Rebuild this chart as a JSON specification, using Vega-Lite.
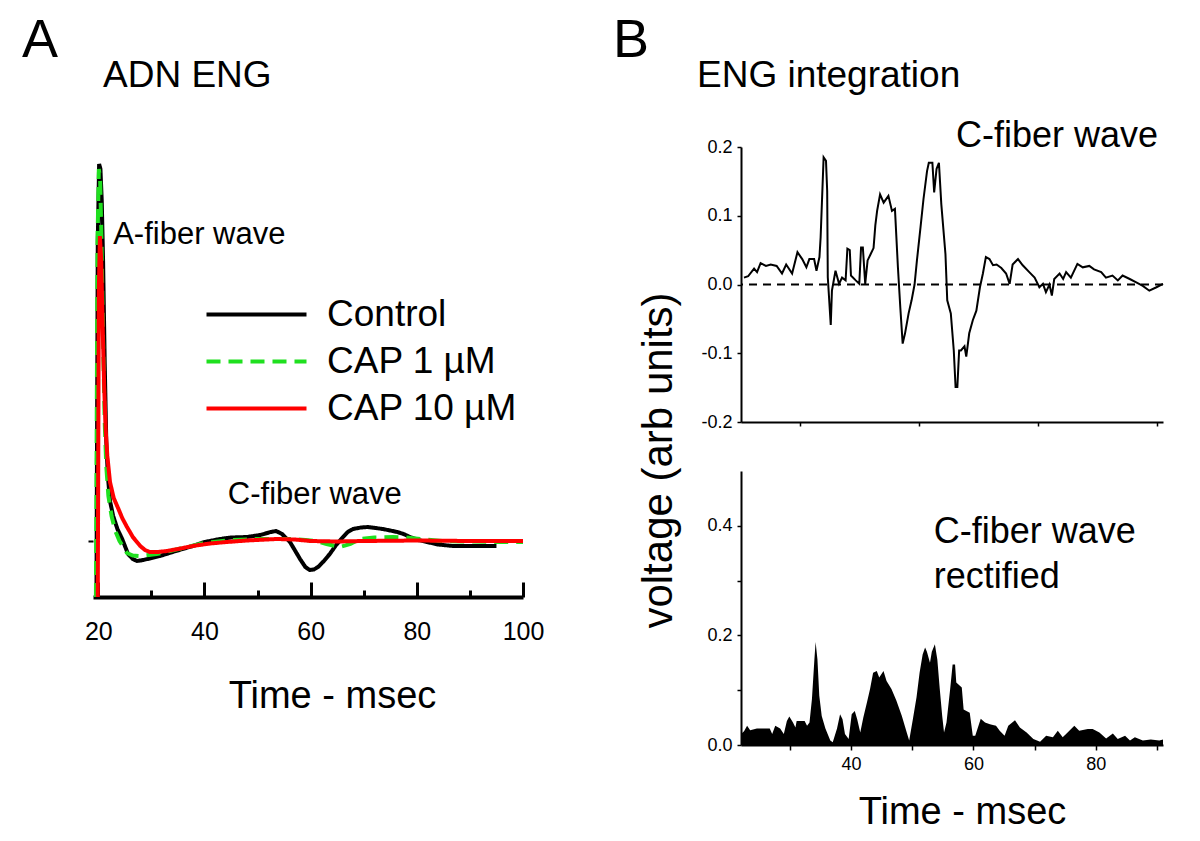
{
  "$schema": "https://vega.github.io/schema/vega-lite/v6.json",
  "background": "white",
  "padding": {"left": 22, "top": 14, "right": 10, "bottom": 10},
  "config": {
    "font": "Liberation Sans",
    "view": {"stroke": null},
    "axis": {"grid": false, "labelFlush": false, "labelOverlap": false, "domainColor": "black", "tickColor": "black", "labelColor": "black", "titleColor": "black", "titleFontWeight": "normal", "labelFont": "Liberation Sans", "titleFont": "Liberation Sans"},
    "title": {"color": "black", "fontWeight": "normal", "font": "Liberation Sans"},
    "legend": {"labelFont": "Liberation Sans", "labelLimit": 0}
  },
  "datasets": {
    "a": [
      {"series": "Control", "t": 19.65, "v": -5.6}, {"series": "Control", "t": 19.9, "v": 30}, {"series": "Control", "t": 20.15, "v": 37.7}, {"series": "Control", "t": 20.4, "v": 37.2}, {"series": "Control", "t": 20.65, "v": 34}, {"series": "Control", "t": 20.9, "v": 28}, {"series": "Control", "t": 21.2, "v": 18}, {"series": "Control", "t": 21.5, "v": 10}, {"series": "Control", "t": 21.8, "v": 6.5}, {"series": "Control", "t": 22.2, "v": 4}, {"series": "Control", "t": 22.8, "v": 2.5}, {"series": "Control", "t": 23.6, "v": 1.2}, {"series": "Control", "t": 24.5, "v": 0.2}, {"series": "Control", "t": 25.6, "v": -1.3}, {"series": "Control", "t": 26.5, "v": -1.8}, {"series": "Control", "t": 27.3, "v": -2.0}, {"series": "Control", "t": 28.5, "v": -1.9}, {"series": "Control", "t": 30, "v": -1.7}, {"series": "Control", "t": 31.6, "v": -1.5}, {"series": "Control", "t": 34, "v": -1.1}, {"series": "Control", "t": 37.8, "v": -0.5}, {"series": "Control", "t": 40, "v": -0.1}, {"series": "Control", "t": 42.9, "v": 0.2}, {"series": "Control", "t": 45, "v": 0.35}, {"series": "Control", "t": 48, "v": 0.4}, {"series": "Control", "t": 50.5, "v": 0.6}, {"series": "Control", "t": 52.5, "v": 0.9}, {"series": "Control", "t": 53.5, "v": 1.0}, {"series": "Control", "t": 54.6, "v": 0.7}, {"series": "Control", "t": 56.1, "v": -0.1}, {"series": "Control", "t": 57, "v": -0.9}, {"series": "Control", "t": 58, "v": -1.8}, {"series": "Control", "t": 59, "v": -2.6}, {"series": "Control", "t": 59.8, "v": -2.9}, {"series": "Control", "t": 60.6, "v": -2.85}, {"series": "Control", "t": 61.4, "v": -2.6}, {"series": "Control", "t": 62.5, "v": -2.0}, {"series": "Control", "t": 63.6, "v": -1.3}, {"series": "Control", "t": 64.8, "v": -0.4}, {"series": "Control", "t": 66.1, "v": 0.4}, {"series": "Control", "t": 67, "v": 0.9}, {"series": "Control", "t": 68, "v": 1.2}, {"series": "Control", "t": 69.5, "v": 1.35}, {"series": "Control", "t": 70.8, "v": 1.4}, {"series": "Control", "t": 72.2, "v": 1.3}, {"series": "Control", "t": 73.6, "v": 1.2}, {"series": "Control", "t": 75, "v": 1.05}, {"series": "Control", "t": 76.3, "v": 0.9}, {"series": "Control", "t": 77.5, "v": 0.7}, {"series": "Control", "t": 78.7, "v": 0.4}, {"series": "Control", "t": 80.3, "v": 0.1}, {"series": "Control", "t": 81.9, "v": -0.1}, {"series": "Control", "t": 84, "v": -0.35}, {"series": "Control", "t": 86.8, "v": -0.5}, {"series": "Control", "t": 91.3, "v": -0.5}, {"series": "Control", "t": 95, "v": -0.5},
      {"series": "CAP 1 µM", "t": 19.55, "v": -5.6}, {"series": "CAP 1 µM", "t": 19.85, "v": 30}, {"series": "CAP 1 µM", "t": 20.1, "v": 37.2}, {"series": "CAP 1 µM", "t": 20.35, "v": 36}, {"series": "CAP 1 µM", "t": 20.6, "v": 30}, {"series": "CAP 1 µM", "t": 20.9, "v": 20}, {"series": "CAP 1 µM", "t": 21.2, "v": 12}, {"series": "CAP 1 µM", "t": 21.5, "v": 7.5}, {"series": "CAP 1 µM", "t": 21.9, "v": 4.5}, {"series": "CAP 1 µM", "t": 22.5, "v": 2.5}, {"series": "CAP 1 µM", "t": 23.2, "v": 1.0}, {"series": "CAP 1 µM", "t": 24, "v": 0}, {"series": "CAP 1 µM", "t": 25.4, "v": -1.2}, {"series": "CAP 1 µM", "t": 26.5, "v": -1.45}, {"series": "CAP 1 µM", "t": 27.8, "v": -1.5}, {"series": "CAP 1 µM", "t": 29.5, "v": -1.4}, {"series": "CAP 1 µM", "t": 31, "v": -1.3}, {"series": "CAP 1 µM", "t": 33.5, "v": -1.0}, {"series": "CAP 1 µM", "t": 36.7, "v": -0.6}, {"series": "CAP 1 µM", "t": 40, "v": -0.2}, {"series": "CAP 1 µM", "t": 45, "v": 0.1}, {"series": "CAP 1 µM", "t": 50, "v": 0.2}, {"series": "CAP 1 µM", "t": 56.7, "v": 0.2}, {"series": "CAP 1 µM", "t": 59, "v": 0.1}, {"series": "CAP 1 µM", "t": 61, "v": 0}, {"series": "CAP 1 µM", "t": 63, "v": -0.3}, {"series": "CAP 1 µM", "t": 65.5, "v": -0.6}, {"series": "CAP 1 µM", "t": 67.5, "v": -0.3}, {"series": "CAP 1 µM", "t": 69.3, "v": 0.2}, {"series": "CAP 1 µM", "t": 72, "v": 0.35}, {"series": "CAP 1 µM", "t": 75.5, "v": 0.4}, {"series": "CAP 1 µM", "t": 78, "v": 0.35}, {"series": "CAP 1 µM", "t": 80.6, "v": 0.2}, {"series": "CAP 1 µM", "t": 85, "v": 0}, {"series": "CAP 1 µM", "t": 90, "v": -0.05}, {"series": "CAP 1 µM", "t": 95, "v": -0.1}, {"series": "CAP 1 µM", "t": 100, "v": -0.1},
      {"series": "CAP 10 µM", "t": 19.9, "v": -5.6}, {"series": "CAP 10 µM", "t": 20.1, "v": 25}, {"series": "CAP 10 µM", "t": 20.3, "v": 30.5}, {"series": "CAP 10 µM", "t": 20.55, "v": 28}, {"series": "CAP 10 µM", "t": 20.8, "v": 22}, {"series": "CAP 10 µM", "t": 21.1, "v": 15.5}, {"series": "CAP 10 µM", "t": 21.4, "v": 11}, {"series": "CAP 10 µM", "t": 21.7, "v": 8.5}, {"series": "CAP 10 µM", "t": 22.2, "v": 5.9}, {"series": "CAP 10 µM", "t": 22.9, "v": 4.3}, {"series": "CAP 10 µM", "t": 23.8, "v": 3.2}, {"series": "CAP 10 µM", "t": 24.5, "v": 2.3}, {"series": "CAP 10 µM", "t": 25.3, "v": 1.5}, {"series": "CAP 10 µM", "t": 26.5, "v": 0.4}, {"series": "CAP 10 µM", "t": 27.9, "v": -0.5}, {"series": "CAP 10 µM", "t": 28.8, "v": -0.9}, {"series": "CAP 10 µM", "t": 29.7, "v": -1.1}, {"series": "CAP 10 µM", "t": 31.2, "v": -1.1}, {"series": "CAP 10 µM", "t": 32.9, "v": -1.0}, {"series": "CAP 10 µM", "t": 35, "v": -0.8}, {"series": "CAP 10 µM", "t": 37.8, "v": -0.5}, {"series": "CAP 10 µM", "t": 41, "v": -0.25}, {"series": "CAP 10 µM", "t": 44.2, "v": -0.1}, {"series": "CAP 10 µM", "t": 48, "v": 0.05}, {"series": "CAP 10 µM", "t": 53.6, "v": 0.2}, {"series": "CAP 10 µM", "t": 57, "v": 0.15}, {"series": "CAP 10 µM", "t": 60, "v": 0}, {"series": "CAP 10 µM", "t": 65, "v": -0.05}, {"series": "CAP 10 µM", "t": 70, "v": 0}, {"series": "CAP 10 µM", "t": 80, "v": 0.05}, {"series": "CAP 10 µM", "t": 90, "v": 0}, {"series": "CAP 10 µM", "t": 100, "v": 0}
    ],
    "btop": [
      {"t": 20.5, "v": 0.010}, {"t": 21.2, "v": 0.012}, {"t": 22.2, "v": 0.023}, {"t": 22.7, "v": 0.018}, {"t": 23.3, "v": 0.031}, {"t": 24.2, "v": 0.027}, {"t": 25.0, "v": 0.029}, {"t": 26.0, "v": 0.027}, {"t": 26.9, "v": 0.016}, {"t": 27.6, "v": 0.029}, {"t": 28.6, "v": 0.016}, {"t": 29.5, "v": 0.047}, {"t": 30.3, "v": 0.037}, {"t": 31.0, "v": 0.025}, {"t": 31.5, "v": 0.037}, {"t": 32.3, "v": 0.037}, {"t": 32.7, "v": 0.020}, {"t": 33.2, "v": 0.040}, {"t": 33.4, "v": 0.069}, {"t": 33.9, "v": 0.185}, {"t": 34.3, "v": 0.180}, {"t": 34.5, "v": 0.136}, {"t": 34.6, "v": 0.011}, {"t": 35.1, "v": -0.059}, {"t": 35.3, "v": -0.009}, {"t": 35.9, "v": 0.020}, {"t": 36.5, "v": 0.001}, {"t": 37.0, "v": 0.010}, {"t": 37.6, "v": 0.006}, {"t": 37.9, "v": 0.052}, {"t": 38.3, "v": 0.050}, {"t": 38.5, "v": 0.013}, {"t": 39.3, "v": 0.006}, {"t": 39.9, "v": 0.001}, {"t": 40.2, "v": 0.054}, {"t": 40.5, "v": 0.054}, {"t": 40.9, "v": 0.001}, {"t": 41.3, "v": 0.035}, {"t": 41.8, "v": 0.044}, {"t": 42.3, "v": 0.053}, {"t": 42.6, "v": 0.086}, {"t": 42.9, "v": 0.107}, {"t": 43.4, "v": 0.131}, {"t": 44.0, "v": 0.119}, {"t": 44.8, "v": 0.129}, {"t": 45.4, "v": 0.107}, {"t": 45.9, "v": 0.110}, {"t": 46.4, "v": 0.025}, {"t": 46.8, "v": -0.033}, {"t": 47.2, "v": -0.086}, {"t": 47.6, "v": -0.071}, {"t": 48.2, "v": -0.042}, {"t": 48.7, "v": -0.023}, {"t": 49.2, "v": 0.0}, {"t": 49.6, "v": 0.035}, {"t": 50.2, "v": 0.083}, {"t": 50.7, "v": 0.124}, {"t": 51.3, "v": 0.165}, {"t": 51.6, "v": 0.177}, {"t": 52.2, "v": 0.177}, {"t": 52.5, "v": 0.134}, {"t": 52.9, "v": 0.168}, {"t": 53.3, "v": 0.177}, {"t": 53.7, "v": 0.117}, {"t": 54.4, "v": 0.044}, {"t": 54.7, "v": -0.023}, {"t": 55.3, "v": -0.042}, {"t": 55.8, "v": -0.096}, {"t": 56.1, "v": -0.149}, {"t": 56.4, "v": -0.149}, {"t": 56.7, "v": -0.096}, {"t": 57.0, "v": -0.096}, {"t": 57.6, "v": -0.090}, {"t": 57.9, "v": -0.105}, {"t": 58.4, "v": -0.071}, {"t": 59.0, "v": -0.052}, {"t": 59.6, "v": -0.038}, {"t": 60.2, "v": -0.004}, {"t": 60.7, "v": 0.016}, {"t": 61.2, "v": 0.040}, {"t": 61.8, "v": 0.037}, {"t": 62.4, "v": 0.028}, {"t": 63.0, "v": 0.029}, {"t": 63.8, "v": 0.024}, {"t": 64.6, "v": 0.016}, {"t": 65.2, "v": 0.001}, {"t": 65.7, "v": 0.029}, {"t": 66.6, "v": 0.037}, {"t": 67.4, "v": 0.028}, {"t": 68.5, "v": 0.018}, {"t": 69.4, "v": 0.010}, {"t": 70.2, "v": -0.004}, {"t": 70.8, "v": 0.001}, {"t": 71.3, "v": -0.011}, {"t": 71.9, "v": 0.0}, {"t": 72.3, "v": -0.016}, {"t": 72.7, "v": 0.008}, {"t": 73.6, "v": 0.016}, {"t": 74.2, "v": 0.008}, {"t": 74.7, "v": 0.018}, {"t": 75.5, "v": 0.010}, {"t": 76.6, "v": 0.030}, {"t": 77.5, "v": 0.025}, {"t": 78.6, "v": 0.027}, {"t": 79.4, "v": 0.022}, {"t": 80.6, "v": 0.018}, {"t": 81.4, "v": 0.010}, {"t": 82.5, "v": 0.013}, {"t": 83.4, "v": 0.006}, {"t": 84.2, "v": 0.013}, {"t": 85.4, "v": 0.008}, {"t": 86.5, "v": 0.003}, {"t": 87.6, "v": -0.002}, {"t": 88.7, "v": -0.009}, {"t": 89.9, "v": -0.004}, {"t": 91.0, "v": 0.001}
    ],
    "bbot": [
      {"t": 22.0, "v": 0.02}, {"t": 22.5, "v": 0.025}, {"t": 23.0, "v": 0.035}, {"t": 23.5, "v": 0.027}, {"t": 24.6, "v": 0.030}, {"t": 25.6, "v": 0.030}, {"t": 26.7, "v": 0.030}, {"t": 27.1, "v": 0.020}, {"t": 27.6, "v": 0.035}, {"t": 28.4, "v": 0.030}, {"t": 29.0, "v": 0.020}, {"t": 29.5, "v": 0.044}, {"t": 29.9, "v": 0.052}, {"t": 30.5, "v": 0.041}, {"t": 30.9, "v": 0.032}, {"t": 31.1, "v": 0.044}, {"t": 32.4, "v": 0.044}, {"t": 32.8, "v": 0.035}, {"t": 33.2, "v": 0.041}, {"t": 33.6, "v": 0.084}, {"t": 34.0, "v": 0.156}, {"t": 34.2, "v": 0.188}, {"t": 34.5, "v": 0.156}, {"t": 34.8, "v": 0.090}, {"t": 35.2, "v": 0.053}, {"t": 35.8, "v": 0.030}, {"t": 36.6, "v": 0.008}, {"t": 37.0, "v": 0.005}, {"t": 37.7, "v": 0.030}, {"t": 38.2, "v": 0.056}, {"t": 38.6, "v": 0.047}, {"t": 39.0, "v": 0.020}, {"t": 39.6, "v": 0.011}, {"t": 40.1, "v": 0.056}, {"t": 40.6, "v": 0.062}, {"t": 41.0, "v": 0.047}, {"t": 41.5, "v": 0.023}, {"t": 42.0, "v": 0.050}, {"t": 42.6, "v": 0.078}, {"t": 43.1, "v": 0.102}, {"t": 43.6, "v": 0.132}, {"t": 44.2, "v": 0.135}, {"t": 44.6, "v": 0.123}, {"t": 45.3, "v": 0.135}, {"t": 45.8, "v": 0.117}, {"t": 46.6, "v": 0.102}, {"t": 47.4, "v": 0.081}, {"t": 48.3, "v": 0.053}, {"t": 49.1, "v": 0.023}, {"t": 49.5, "v": 0.008}, {"t": 50.1, "v": 0.047}, {"t": 50.7, "v": 0.087}, {"t": 51.2, "v": 0.132}, {"t": 51.7, "v": 0.165}, {"t": 52.1, "v": 0.178}, {"t": 52.4, "v": 0.170}, {"t": 52.9, "v": 0.150}, {"t": 53.2, "v": 0.170}, {"t": 53.7, "v": 0.184}, {"t": 54.1, "v": 0.156}, {"t": 54.5, "v": 0.102}, {"t": 54.9, "v": 0.053}, {"t": 55.2, "v": 0.023}, {"t": 55.6, "v": 0.041}, {"t": 56.2, "v": 0.102}, {"t": 56.6, "v": 0.147}, {"t": 57.0, "v": 0.147}, {"t": 57.2, "v": 0.114}, {"t": 58.1, "v": 0.105}, {"t": 58.4, "v": 0.065}, {"t": 59.4, "v": 0.059}, {"t": 59.9, "v": 0.017}, {"t": 60.3, "v": 0.017}, {"t": 61.2, "v": 0.048}, {"t": 61.9, "v": 0.041}, {"t": 62.7, "v": 0.038}, {"t": 63.7, "v": 0.035}, {"t": 64.3, "v": 0.026}, {"t": 65.1, "v": 0.017}, {"t": 65.7, "v": 0.035}, {"t": 66.8, "v": 0.045}, {"t": 67.6, "v": 0.032}, {"t": 68.7, "v": 0.023}, {"t": 69.8, "v": 0.011}, {"t": 70.9, "v": 0.006}, {"t": 71.9, "v": 0.017}, {"t": 73.0, "v": 0.014}, {"t": 73.8, "v": 0.026}, {"t": 74.6, "v": 0.014}, {"t": 75.4, "v": 0.023}, {"t": 76.5, "v": 0.035}, {"t": 77.3, "v": 0.026}, {"t": 78.7, "v": 0.029}, {"t": 79.5, "v": 0.029}, {"t": 80.6, "v": 0.023}, {"t": 81.7, "v": 0.012}, {"t": 82.8, "v": 0.021}, {"t": 83.6, "v": 0.011}, {"t": 84.8, "v": 0.017}, {"t": 85.6, "v": 0.008}, {"t": 86.4, "v": 0.014}, {"t": 87.7, "v": 0.008}, {"t": 89.0, "v": 0.010}, {"t": 90.4, "v": 0.008}, {"t": 91.0, "v": 0.010}
    ]
  },
  "bounds": "flush",
  "spacing": 648,
  "resolve": {"scale": {"color": "independent", "strokeDash": "independent"}},
  "hconcat": [
    {
      "bounds": "flush",
      "title": {"text": "A", "anchor": "start", "frame": "group", "dx": -71, "offset": -11, "fontSize": 54},
      "vconcat": [
        {
          "width": 430,
          "height": 450,
          "title": {"text": "ADN ENG", "anchor": "start", "frame": "group", "dx": 10, "offset": 52, "fontSize": 37},
          "layer": [
            {
              "data": {"name": "a"},
              "transform": [{"filter": "datum.series === 'Control'"}],
              "mark": {"type": "line", "strokeWidth": 4},
              "encoding": {
                "x": {"field": "t", "type": "quantitative", "scale": {"domain": [19, 100], "nice": false, "zero": false},
                  "axis": {"values": [20, 30, 40, 50, 60, 70, 80, 90, 100], "labelExpr": "datum.value % 20 === 0 ? datum.label : ''",
                    "tickSize": {"condition": {"test": "datum.value % 20 === 0", "value": -15}, "value": -7},
                    "tickWidth": 3, "domainWidth": 4, "labelFontSize": 25, "labelPadding": 37, "title": "Time - msec", "titleFontSize": 38, "titlePadding": 25, "titleX": 239, "titleAlign": "center"}},
                "y": {"field": "v", "type": "quantitative", "scale": {"domain": [-5.6, 39.4], "nice": false, "zero": false},
                  "axis": {"values": [0], "labels": false, "domain": false, "tickSize": 5, "tickWidth": 2, "title": null}},
                "color": {"field": "series", "type": "nominal", "scale": {"domain": ["Control", "CAP 1 µM", "CAP 10 µM"], "range": ["black", "#1fe01f", "red"]},
                  "legend": {"orient": "none", "legendX": 145, "legendY": 149, "title": null, "symbolType": "M-5,0H5", "symbolSize": 400, "symbolStrokeWidth": 4, "labelFontSize": 37, "labelColor": "black", "labelOffset": 52, "labelLimit": 0, "rowPadding": 9, "padding": 0}},
                "strokeDash": {"field": "series", "type": "nominal", "scale": {"domain": ["Control", "CAP 1 µM", "CAP 10 µM"], "range": [[1, 0], [14, 8], [1, 0]]},
                  "legend": {"orient": "none", "legendX": 145, "legendY": 149, "title": null, "symbolType": "M-5,0H5", "symbolSize": 400, "symbolStrokeWidth": 4, "labelFontSize": 37, "labelColor": "black", "labelOffset": 52, "labelLimit": 0, "rowPadding": 9, "padding": 0}}
              }
            },
            {
              "data": {"name": "a"},
              "transform": [{"filter": "datum.series === 'CAP 1 µM'"}],
              "mark": {"type": "line", "strokeWidth": 4},
              "encoding": {
                "x": {"field": "t", "type": "quantitative"},
                "y": {"field": "v", "type": "quantitative"},
                "color": {"field": "series", "type": "nominal"},
                "strokeDash": {"field": "series", "type": "nominal"}
              }
            },
            {
              "data": {"name": "a"},
              "transform": [{"filter": "datum.series === 'CAP 10 µM'"}],
              "mark": {"type": "line", "strokeWidth": 4},
              "encoding": {
                "x": {"field": "t", "type": "quantitative"},
                "y": {"field": "v", "type": "quantitative"},
                "color": {"field": "series", "type": "nominal"},
                "strokeDash": {"field": "series", "type": "nominal"}
              }
            },
            {
              "data": {"values": [{}]},
              "mark": {"type": "text", "text": "A-fiber wave", "align": "left", "baseline": "alphabetic", "fontSize": 31, "color": "black"},
              "encoding": {"x": {"datum": 22.8}, "y": {"datum": 29.7}}
            },
            {
              "data": {"values": [{}]},
              "mark": {"type": "text", "text": "C-fiber wave", "align": "left", "baseline": "alphabetic", "fontSize": 31, "color": "black"},
              "encoding": {"x": {"datum": 44.4}, "y": {"datum": 3.7}}
            }
          ]
        }
      ]
    },
    {
      "bounds": "flush",
      "spacing": 49,
      "title": {"text": "B", "anchor": "start", "frame": "group", "dx": -128, "offset": -11, "fontSize": 54},
      "vconcat": [
        {
          "width": 422,
          "height": 275,
          "title": {"text": "ENG integration", "anchor": "start", "frame": "group", "dx": -44, "offset": 23, "fontSize": 37},
          "layer": [
            {
              "data": {"name": "btop"},
              "mark": {"type": "line", "color": "black", "strokeWidth": 2},
              "encoding": {
                "x": {"field": "t", "type": "quantitative", "scale": {"domain": [20, 91], "nice": false, "zero": false},
                  "axis": {"values": [30, 50, 70, 90], "labels": false, "title": null, "tickSize": 4, "tickWidth": 1.5, "domainWidth": 2}},
                "y": {"field": "v", "type": "quantitative", "scale": {"domain": [-0.2, 0.2], "nice": false, "zero": false},
                  "axis": {"values": [-0.2, -0.1, 0, 0.1, 0.2], "labelExpr": "datum.value < 0 ? '-' + format(-datum.value, '.1f') : format(datum.value, '.1f')",
                    "labelFontSize": 18, "tickSize": 4, "tickWidth": 1.5, "labelPadding": 5, "domainWidth": 2,
                    "title": "voltage (arb units)", "titleFontSize": 42, "titleX": -70, "titleY": 313, "titleAngle": 270, "titleAlign": "center", "titleBaseline": "alphabetic"}}
              }
            },
            {
              "data": {"values": [{}]},
              "mark": {"type": "rule", "strokeDash": [8, 6], "strokeWidth": 2, "color": "black"},
              "encoding": {"y": {"datum": 0}}
            },
            {
              "data": {"values": [{}]},
              "mark": {"type": "text", "text": "C-fiber wave", "align": "right", "baseline": "alphabetic", "fontSize": 36, "dx": -5, "color": "black"},
              "encoding": {"x": {"datum": 91}, "y": {"datum": 0.2}}
            }
          ]
        },
        {
          "width": 422,
          "height": 274,
          "layer": [
            {
              "data": {"name": "bbot"},
              "mark": {"type": "area", "color": "black", "interpolate": "linear"},
              "encoding": {
                "x": {"field": "t", "type": "quantitative", "scale": {"domain": [22, 91], "nice": false, "zero": false},
                  "axis": {"values": [30, 40, 50, 60, 70, 80, 90], "labelExpr": "datum.value % 20 === 0 ? datum.label : ''",
                    "labelFontSize": 18, "tickSize": 5, "tickWidth": 1.5, "labelPadding": 5, "domainWidth": 2,
                    "title": "Time - msec", "titleFontSize": 38, "titlePadding": 20, "titleX": 221, "titleAlign": "center"}},
                "y": {"field": "v", "type": "quantitative", "scale": {"domain": [0, 0.5], "nice": false, "zero": false},
                  "axis": {"values": [0, 0.1, 0.2, 0.3, 0.4], "labelExpr": "round(datum.value * 10) % 2 === 0 ? format(datum.value, '.1f') : ''",
                    "labelFontSize": 18, "tickSize": 4, "tickWidth": 1.5, "labelPadding": 5, "domainWidth": 2, "title": null}}
              }
            },
            {
              "data": {"values": [{}]},
              "mark": {"type": "text", "text": ["C-fiber wave", "rectified"], "align": "left", "baseline": "alphabetic", "fontSize": 36, "lineHeight": 45, "color": "black"},
              "encoding": {"x": {"datum": 53.5}, "y": {"datum": 0.369}}
            }
          ]
        }
      ]
    }
  ]
}
